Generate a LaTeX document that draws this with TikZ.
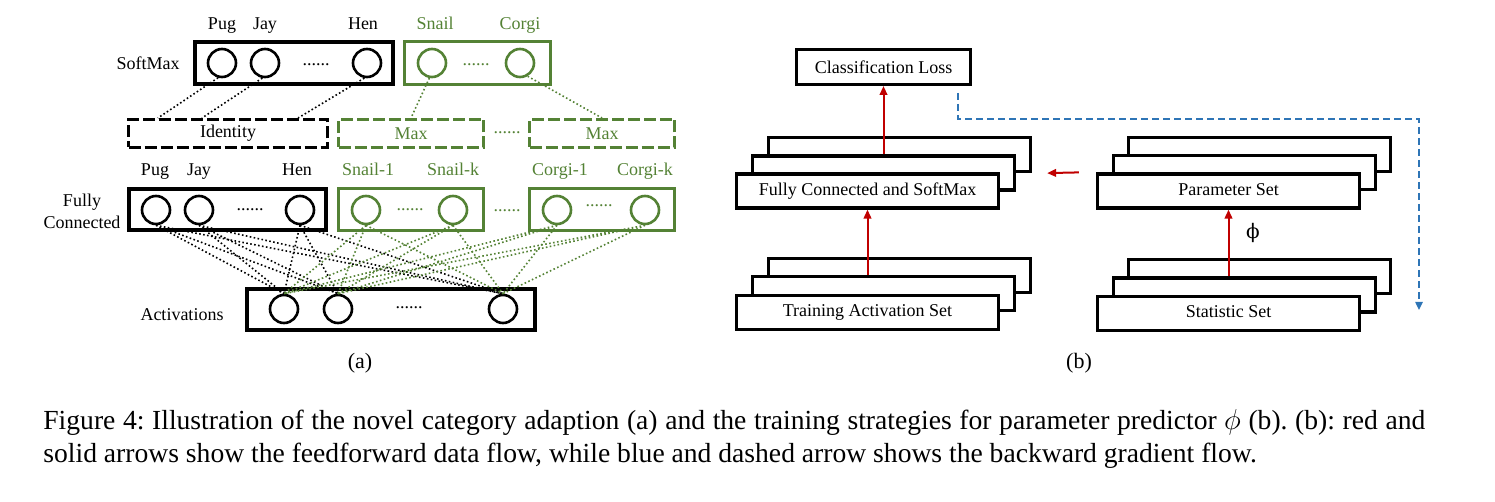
\documentclass[tikz,border=0pt]{standalone}
\usepackage{fontspec}
\setmainfont{Liberation Serif}
\newfontfamily\phifont{DejaVu Serif}
\usepackage{xcolor}
\usepackage{tikz}
\usetikzlibrary{arrows.meta, positioning, calc}
\definecolor{netgreen}{RGB}{84,130,53}
\definecolor{fwdred}{RGB}{192,0,0}
\definecolor{bwdblue}{RGB}{46,117,182}

\begin{document}
\begin{tikzpicture}[
    x=0.5pt, y=-0.5pt,
    %% texts
    lbl/.style  = {font=\fontsize{9}{11}\selectfont, inner sep=0pt},
    glbl/.style = {lbl, text=netgreen},
    dotsn/.style = {lbl, anchor=base},
    %% unit circles
    unit/.style  = {circle, draw, line width=1.3pt, minimum size=14pt, inner sep=0pt},
    gunit/.style = {unit, draw=netgreen},
    %% layer boxes of (a)
    nbox/.style  = {draw, line width=2pt, minimum height=21pt, inner sep=0pt},
    gbox/.style  = {nbox, draw=netgreen, line width=1.7pt},
    dbox/.style  = {draw, line width=1.5pt, dash pattern=on 6pt off 2pt,
      minimum height=14pt, inner sep=0pt, font=\fontsize{9}{11}\selectfont},
    gdbox/.style = {dbox, draw=netgreen, text=netgreen},
    %% dotted weights
    wire/.style  = {line width=0.8pt, dash pattern=on 0.8pt off 1.2pt},
    gwire/.style = {wire, netgreen},
    %% stacked sets of (b)
    layer/.style = {draw, line width=1.6pt, fill=white, minimum width=131pt,
      minimum height=17pt, inner sep=0pt, font=\fontsize{9}{11}\selectfont},
    %% arrows
    fwd/.style = {-{Triangle[length=4.5pt,width=3.8pt]}, line width=1pt, fwdred},
    bwd/.style = {-{Triangle[length=4pt,width=3.6pt]}, line width=0.9pt, bwdblue,
      dash pattern=on 3.5pt off 2pt},
  ]
  \useasboundingbox (0,0) rectangle (1495,502);

    %% ── (a) SoftMax layer ────────────────────────────────────────────────
    \node[lbl] (smLbl) at (148,63) {SoftMax};
    \node[nbox, minimum width=99pt] (smA) at (294,63) {};
    \node[gbox, minimum width=72.8pt, minimum height=21.3pt] (smB) at (477.5,63) {};
    \node[unit]  (sPug)   at (222,63) {};
    \node[unit]  (sJay)   at (265,63) {};
    \node[unit]  (sHen)   at (367,63) {};
    \node[gunit] (sSnail) at (432,63) {};
    \node[gunit] (sCorgi) at (520,63) {};
    \node[dotsn] (sDotA) at (316,66) {......};
    \node[dotsn, text=netgreen] (sDotB) at (476,66) {......};

    \node[lbl, anchor=base]  (sPugT)   at (222,30) {Pug};
    \node[lbl, anchor=base]  (sJayT)   at (265,30) {Jay};
    \node[lbl, anchor=base]  (sHenT)   at (363,30) {Hen};
    \node[glbl, anchor=base] (sSnailT) at (435,30) {Snail};
    \node[glbl, anchor=base] (sCorgiT) at (520,30) {Corgi};

    %% ── (a) pooling layer ────────────────────────────────────────────────
    \node[dbox, minimum width=99.5pt] (iden) at (228,133.5) {Identity};
    \node[gdbox, minimum width=72.5pt] (maxA) at (411,133.5) {Max};
    \node[gdbox, minimum width=72.5pt] (maxB) at (602,133.5) {Max};
    \node[dotsn, text=netgreen] (pDot) at (507,134) {......};

    \draw[wire] (sPug.-105) -- ($(iden.north west)!0.153!(iden.north east)$);
    \draw[wire] (sJay.-100) -- ($(iden.north west)!0.371!(iden.north east)$);
    \draw[wire] (sHen.-100) -- ($(iden.north west)!0.847!(iden.north east)$);
    \draw[gwire] (sSnail.-100) -- (maxA.north);
    \draw[gwire] (sCorgi.-60) -- (maxB.north);

    %% ── (a) fully connected layer ────────────────────────────────────────
    \node[lbl, align=center] (fcLbl) at (82,211) {Fully\\Connected};
    \node[nbox, minimum width=98.5pt, minimum height=20.5pt] (fcA) at (227.5,209.5) {};
    \node[gbox, minimum width=72.3pt, minimum height=20.8pt] (fcG1) at (411,209.5) {};
    \node[gbox, minimum width=72.3pt, minimum height=20.8pt] (fcG2) at (602,209.5) {};
    \node[unit]  (fPug) at (156,210) {};
    \node[unit]  (fJay) at (199,210) {};
    \node[unit]  (fHen) at (300,210) {};
    \node[gunit] (fSn1) at (366,210) {};
    \node[gunit] (fSnk) at (453,210) {};
    \node[gunit] (fCo1) at (557,210) {};
    \node[gunit] (fCok) at (645,210) {};
    \node[dotsn] (fDotA) at (250,211) {......};
    \node[dotsn, text=netgreen] (fDotB) at (410,211) {......};
    \node[dotsn, text=netgreen] (fDotC) at (507,212) {......};
    \node[dotsn, text=netgreen] (fDotD) at (599,207) {......};

    \node[lbl, anchor=base]  (fPugT) at (155,176) {Pug};
    \node[lbl, anchor=base]  (fJayT) at (199,176) {Jay};
    \node[lbl, anchor=base]  (fHenT) at (297,176) {Hen};
    \node[glbl, anchor=base] (fSn1T) at (368,176) {Snail-1};
    \node[glbl, anchor=base] (fSnkT) at (453,176) {Snail-k};
    \node[glbl, anchor=base] (fCo1T) at (560,176) {Corgi-1};
    \node[glbl, anchor=base] (fCokT) at (645,176) {Corgi-k};

    %% ── (a) activations ──────────────────────────────────────────────────
    \node[lbl] (actLbl) at (182,315) {Activations};
    \node[nbox, minimum width=144pt, minimum height=20.5pt] (act) at (391,309.5) {};
    \node[unit] (aOne) at (284,309) {};
    \node[unit] (aTwo) at (338,309) {};
    \node[unit] (aLast) at (503,309) {};
    \node[dotsn] (aDot) at (409,309) {......};

    \draw[wire] (fPug.south) -- (aOne.north) (fPug.south) -- (aTwo.north) (fPug.south) -- (aLast.north);
    \draw[wire] (fJay.south) -- (aOne.north) (fJay.south) -- (aTwo.north) (fJay.south) -- (aLast.north);
    \draw[wire] (fHen.south) -- (aOne.north) (fHen.south) -- (aTwo.north) (fHen.south) -- (aLast.north);
    \draw[gwire] (fSn1.south) -- (aOne.north) (fSn1.south) -- (aTwo.north) (fSn1.south) -- (aLast.north);
    \draw[gwire] (fSnk.south) -- (aOne.north) (fSnk.south) -- (aTwo.north) (fSnk.south) -- (aLast.north);
    \draw[gwire] (fCo1.south) -- (aOne.north) (fCo1.south) -- (aTwo.north) (fCo1.south) -- (aLast.north);
    \draw[gwire] (fCok.south) -- (aOne.north) (fCok.south) -- (aTwo.north) (fCok.south) -- (aLast.north);

    \node[font=\fontsize{11}{13}\selectfont] (capA) at (360,363) {(a)};

    %% ── (b) stacked sets ─────────────────────────────────────────────────
    \node[layer, minimum width=86.9pt, minimum height=17.4pt] (cls) at (883.5,67) {Classification Loss};

    \node[layer] (fcB) at (899.5,154.5) {};
    \node[layer] (fcM) at (883.5,173) {};
    \node[layer] (fcF) at (867.5,191) {\strut Fully Connected and SoftMax};

    \node[layer] (trB) at (899.5,275.5) {};
    \node[layer] (trM) at (883.5,293.5) {};
    \node[layer] (trF) at (867.5,312.5) {\strut Training Activation Set};

    \node[layer] (parB) at (1259.5,154.5) {};
    \node[layer] (parM) at (1244.5,172.5) {};
    \node[layer] (parF) at (1228.5,191) {\strut Parameter Set};

    \node[layer] (stB) at (1259.5,276.5) {};
    \node[layer] (stM) at (1244.5,295) {};
    \node[layer] (stF) at (1228.5,313.5) {\strut Statistic Set};

    %% feedforward (red) and gradient (blue)
    \draw[fwd] (fcM.north) -- (cls.south);
    \draw[fwd] (trM.north -| trF.north) -- (fcF.south);
    \draw[fwd] (stM.north -| stF.north) -- (parF.south);
    \draw[fwd] ($(parF.north west)+(-17,0)$) -- ($(fcB.south east)+(15,0)$);
    \node[lbl, font=\phifont\fontsize{10}{12}\selectfont] (phiLbl) at (1253,233) {ϕ};

    \coordinate (gStart) at ($(cls.south east)+(-14,7)$);
    \coordinate (gEnd) at (1419,310);
    \draw[bwd] (gStart) -- ++(0,26) -| (gEnd);

    \node[font=\fontsize{11}{13}\selectfont] (capB) at (1079,363) {(b)};

    %% ── caption ──────────────────────────────────────────────────────────
    \node[anchor=north west, text width=691pt, align=justify, inner sep=0pt,
      font=\fontsize{13.8}{16.3}\selectfont\frenchspacing] (figCap) at (43,409)
      {Figure 4: Illustration of the novel category adaption (a) and the training strategies for parameter predictor $\phi$ (b). (b): red and\linebreak
       solid arrows show the feedforward data flow, while blue and dashed arrow shows the backward gradient flow.};

  \end{tikzpicture}
\end{document}
